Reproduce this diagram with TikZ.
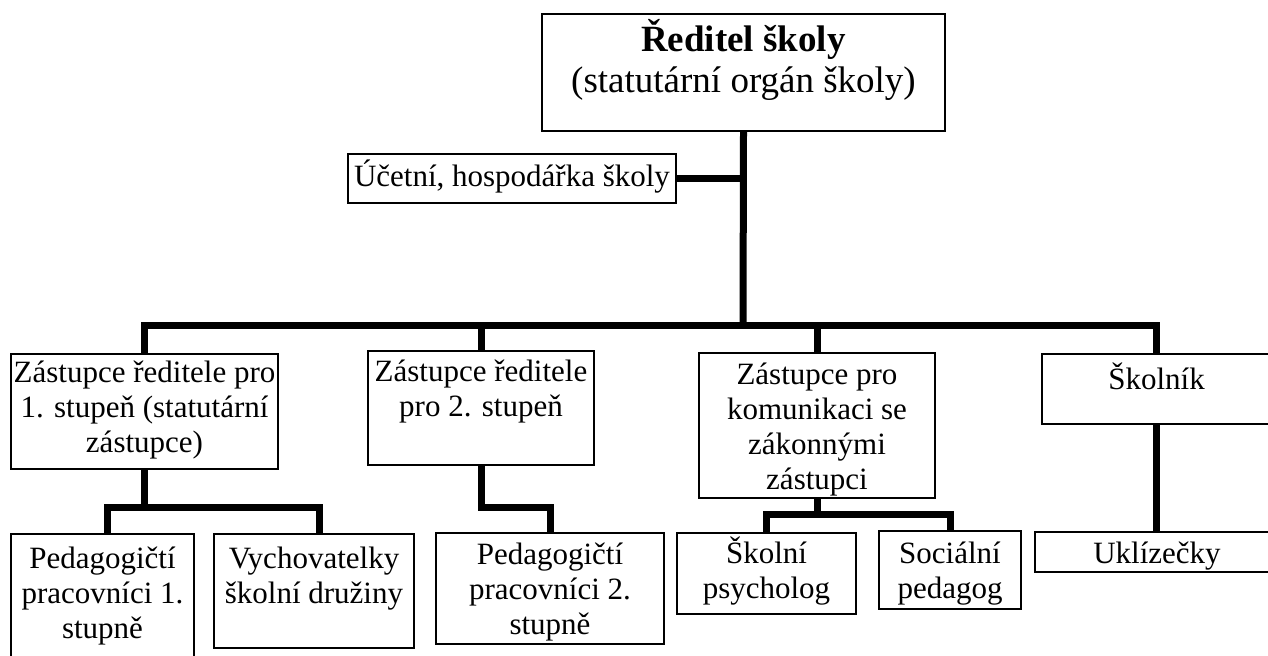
\documentclass[tikz,border=0pt]{standalone}
\usepackage{fontspec}
\setmainfont{Liberation Serif}
\newcommand\lline[1]{\makebox[\linewidth]{#1}\par}
% name, left, top, right, bottom, first-baseline offset (px), content
\newcommand\obox[7]{\node[orgbox,anchor=north west] (#1) at (#2,#3)
  {\parbox[t][\dimexpr(#5pt-#3pt)/2\relax][t]{\dimexpr(#4pt-#2pt)/2\relax}{\rule{0pt}{\dimexpr #6pt/2\relax}#7}};}
\tikzset{
  orgbox/.style={draw=black, line width=1pt, inner sep=0pt, fill=white,
    font=\fontsize{15.5}{17.5}\selectfont},
  conn/.style={draw=black, line width=3.5pt, line join=miter}
}
\begin{document}
\begin{tikzpicture}[x=0.5pt,y=-0.5pt]
\useasboundingbox (0,0) rectangle (1268,655);
\clip (0,0) rectangle (1268,655);
\fill[white] (0,0) rectangle (1268,655);

% connectors (drawn first, boxes on top)
\coordinate (bar) at (743,325);

\obox{dir}{541}{13}{944}{130}{37}{\fontsize{18.5}{20.5}\selectfont\lline{\textbf{Ředitel školy}}\lline{(statutární orgán školy)}}
\obox{uc}{347}{153}{675}{202}{32}{\lline{Účetní, hospodářka školy}}

\obox{z1}{10}{353}{277}{468}{28}{\lline{Zástupce ředitele pro}\lline{1. stupeň (statutární}\lline{zástupce)}}
\obox{z2}{367}{350}{593}{464}{30}{\lline{Zástupce ředitele}\lline{pro 2. stupeň}}
\obox{z3}{698}{352}{934}{497}{31}{\lline{Zástupce pro}\lline{komunikaci se}\lline{zákonnými}\lline{zástupci}}
\obox{sk}{1041}{353}{1270}{423}{35}{\lline{Školník}}

\obox{p1}{10}{533}{193}{680}{34}{\lline{Pedagogičtí}\lline{pracovníci 1.}\lline{stupně}}
\obox{vy}{213}{533}{413}{647}{34}{\lline{Vychovatelky}\lline{školní družiny}}
\obox{p2}{435}{532}{663}{643}{31}{\lline{Pedagogičtí}\lline{pracovníci 2.}\lline{stupně}}
\obox{ps}{676}{532}{855}{613}{30}{\lline{Školní}\lline{psycholog}}
\obox{so}{878}{530}{1020}{608}{32}{\lline{Sociální}\lline{pedagog}}
\obox{uk}{1034}{531}{1278}{571}{31}{\lline{Uklízečky}}

% level 1
\draw[conn] (dir.south) -- (bar);
\draw[conn] (uc.east) -- (uc.east -| bar);
% level 2
\draw[conn] (bar) -| (z1.north);
\draw[conn] (bar) -| (z2.north);
\draw[conn] (bar) -| (z3.north);
\draw[conn] (bar) -| (sk.north);
% level 3
\draw[conn] (z1.south) -- ++(0,37) -| ([xshift=2.25pt]p1.north);
\draw[conn] (z1.south) -- ++(0,37) -| ([xshift=2.5pt]vy.north);
\draw[conn] (z2.south) -- ++(0,41) -| (p2.north);
\draw[conn] (z3.south) -- ++(0,15) -| (ps.north);
\draw[conn] (z3.south) -- ++(0,15) -| (so.north);
\draw[conn] (sk.south) -- (sk.south |- uk.north);
\end{tikzpicture}
\end{document}
